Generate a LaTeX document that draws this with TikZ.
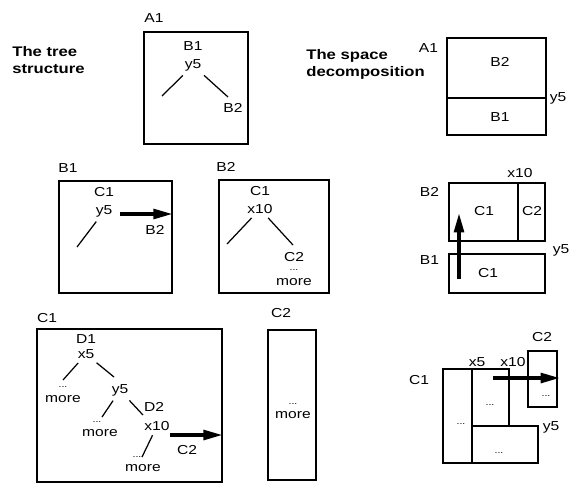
\documentclass[tikz,border=0pt]{standalone}
\usepackage{fontspec}
\setmainfont[FakeStretch=1.2]{Liberation Sans}
\usetikzlibrary{arrows.meta,fit}

\begin{document}
\begin{tikzpicture}[x=0.02cm,y=-0.02cm,
  region/.style={draw,line width=0.85pt,inner sep=0pt},
  lbl/.style={inner sep=1.5pt,anchor=base,font=\fontsize{7.4}{9}\selectfont},
  dots/.style={inner sep=1pt,anchor=base,font=\fontsize{5}{6}\selectfont},
  title/.style={inner sep=0pt,anchor=base west,align=left,
    font=\fontsize{7.9}{9.4}\selectfont\bfseries},
  branch/.style={line width=0.7pt,shorten <=1pt},
  bigarrow/.style={line width=2pt,-{Triangle[length=11pt,width=5.5pt]}}]
  \useasboundingbox (0,0) rectangle (570,487);

  \node[title] (tTitle) at (12,73) {The tree\\structure};
  \node[title] (sTitle) at (306,76) {The space\\decomposition};

  \node[lbl] (tA1) at (154,22.5) {A1};
  \node[region,fit={(144,32) (248,144)}] (tA) {};
  \node[lbl] (tAb1) at (193,50.5) {B1};
  \node[lbl] (tAy5) at (193,68.5) {y5};
  \node[lbl] (tAb2) at (233,112.5) {B2};
  \coordinate (tAl) at (162,96);
  \coordinate (tAr) at (228,97);
  \draw[branch] (tAy5) -- (tAl);
  \draw[branch] (tAy5) -- (tAr);

  \node[lbl] (tB1) at (68,172.5) {B1};
  \node[region,fit={(59,181) (172,293)}] (tB) {};
  \node[lbl] (tBc1) at (104,196.5) {C1};
  \node[lbl] (tBy5) at (104,214.5) {y5};
  \node[lbl] (tBb2) at (155,234.5) {B2};
  \coordinate (tBl) at (77,247);
  \coordinate (tBarr) at (120,214);
  \draw[branch] (tBy5) -- (tBl);
  \draw[bigarrow] (tBarr) -- (tBarr -| tB.east);

  \node[lbl] (tB2) at (226,171.5) {B2};
  \node[region,fit={(219,180) (329,293)}] (tC) {};
  \node[lbl] (tCc1) at (260,195.5) {C1};
  \node[lbl] (tCx10) at (260,213.5) {x10};
  \node[lbl] (tCc2) at (294,261.5) {C2};
  \node[dots] (tCd) at (294,270) {...};
  \node[lbl] (tCm) at (294,285.5) {more};
  \coordinate (tCl) at (227,244);
  \coordinate (tCr) at (293,245);
  \draw[branch] (tCx10) -- (tCl);
  \draw[branch] (tCx10) -- (tCr);

  \node[lbl] (tD1) at (47,322.5) {C1};
  \node[region,fit={(37,329) (222,482)}] (tD) {};
  \node[lbl] (tDd1) at (86,343.5) {D1};
  \node[lbl] (tDx5) at (86,358.5) {x5};
  \node[dots] (tDa) at (63,387) {...};
  \node[lbl] (tDam) at (63,402.5) {more};
  \node[lbl] (tDy5) at (120,393.5) {y5};
  \node[dots] (tDb) at (97,422) {...};
  \node[lbl] (tDbm) at (100,436.5) {more};
  \node[lbl] (tDd2) at (154,411.5) {D2};
  \node[lbl] (tDx10) at (157,430.5) {x10};
  \node[dots] (tDc) at (137,457) {...};
  \node[lbl] (tDcm) at (143,471.5) {more};
  \node[lbl] (tDc2) at (187,454.5) {C2};
  \coordinate (tDal) at (63,380);
  \coordinate (tDar) at (114,377);
  \coordinate (tDbl) at (102,417);
  \coordinate (tDbr) at (143,415);
  \coordinate (tDcl) at (142,457);
  \coordinate (tDarr) at (170,435);
  \draw[branch] (tDx5) -- (tDal);
  \draw[branch] (tDx5) -- (tDar);
  \draw[branch] (tDy5) -- (tDbl);
  \draw[branch] (tDy5) -- (tDbr);
  \draw[branch] (tDx10) -- (tDcl);
  \draw[bigarrow] (tDarr) -- (tDarr -| tD.east);

  \node[lbl] (tE1) at (281,317.5) {C2};
  \node[region,fit={(268,330) (316,480)}] (tE) {};
  \node[dots] (tEd) at (293,404) {...};
  \node[lbl] (tEm) at (293,418.5) {more};

  \node[lbl,anchor=base east] (sA1) at (441,52.5) {A1};
  \node[region,fit={(447,38) (546,98)}] (sAb2) {};
  \node[region,fit={(447,98) (546,135)}] (sAb1) {};
  \node[lbl] (sAb2t) at (500,66.5) {B2};
  \node[lbl] (sAb1t) at (500,121.5) {B1};
  \node[lbl] (sAy5) at (558,101.5) {y5};

  \node[lbl] (sBx10) at (520,177.5) {x10};
  \node[lbl,anchor=base east] (sB2) at (442,196.5) {B2};
  \node[region,fit={(449,183) (518,241)}] (sBc1) {};
  \node[region,fit={(518,183) (545,241)}] (sBc2) {};
  \node[lbl] (sBc1t) at (484,215.5) {C1};
  \node[lbl] (sBc2t) at (532,215.5) {C2};
  \node[lbl] (sBy5) at (561,253.5) {y5};
  \node[lbl,anchor=base east] (sB1) at (442,264.5) {B1};
  \node[region,fit={(449,254) (545,293)}] (sBb1) {};
  \node[lbl] (sBb1t) at (488,277.5) {C1};
  \coordinate (sBarr) at (459,279);
  \coordinate (sBtip) at (459,213);
  \draw[bigarrow] (sBarr) -- (sBtip);

  \node[lbl] (sCc2) at (542,341.5) {C2};
  \node[region,fit={(528,351) (557,407)}] (sCe) {};
  \node[dots] (sCed) at (546,396) {...};
  \node[lbl] (sCx5) at (477,366.5) {x5};
  \node[lbl] (sCx10) at (513,366.5) {x10};
  \node[lbl,anchor=base east] (sC1) at (432,384.5) {C1};
  \node[region,fit={(443,369) (472,463)}] (sCa) {};
  \node[region,fit={(472,369) (509,426)}] (sCb) {};
  \node[region,fit={(472,426) (538,463)}] (sCd) {};
  \node[dots] (sCad) at (461,424) {...};
  \node[dots] (sCbd) at (490,405) {...};
  \node[dots] (sCdd) at (499,453) {...};
  \node[lbl] (sCy5) at (551,430.5) {y5};
  \coordinate (sCarr) at (493,378);
  \coordinate (sCtip) at (560,378);
  \draw[bigarrow] (sCarr) -- (sCtip);
\end{tikzpicture}
\end{document}
